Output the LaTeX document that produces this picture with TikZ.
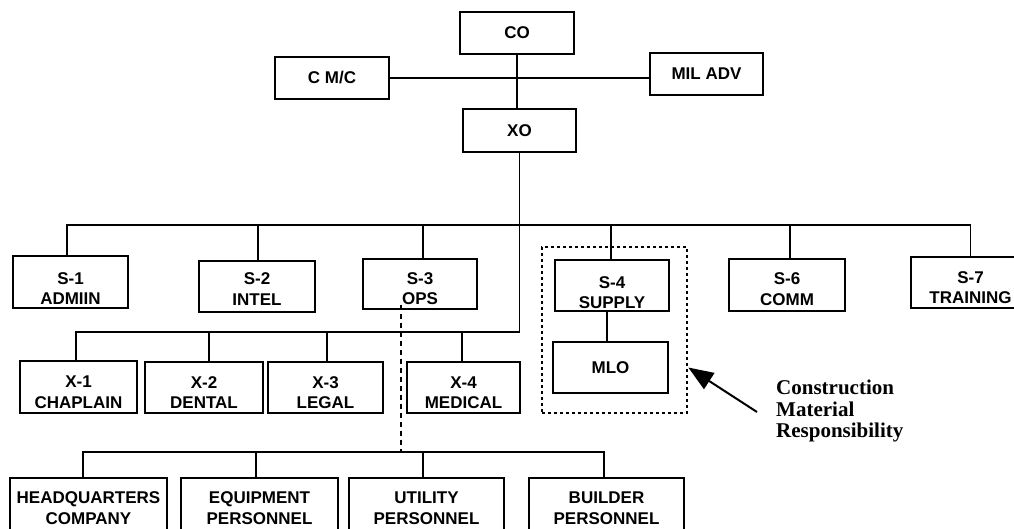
\documentclass[tikz,border=0pt]{standalone}
\usepackage{fontspec}
\setmainfont{Liberation Sans}
\newfontfamily\notefont{Liberation Serif}
\usetikzlibrary{arrows.meta}
\newcommand{\lowby}[1]{\rule{0pt}{#1pt}}
\tikzset{
  ob/.style={draw, rectangle, inner sep=0pt, align=center, line width=1.4pt,
    font=\fontsize{17}{20.5}\selectfont\bfseries},
  link/.style={line width=1.4pt},
  dashlink/.style={line width=1.2pt, dash pattern=on 5pt off 4pt},
  grpbox/.style={draw, rectangle, inner sep=0pt, line width=2.6pt, dash pattern=on 2.6pt off 3.4pt},
  bigarrow/.style={line width=2pt, -{Triangle[length=25pt,width=19pt]}},
  notetext/.style={anchor=north west, align=left, inner sep=0pt,
    font=\notefont\bfseries\fontsize{21}{21.5}\selectfont}
}
\begin{document}
\begin{tikzpicture}[x=1pt,y=-1pt]
\useasboundingbox (0,0) rectangle (1014,529);
\fill[white] (0,0) rectangle (1014,529);
\clip (0,0) rectangle (1014,529);

% group box
\node[grpbox, minimum width=145, minimum height=166] (grp) at (614.5,330) {};

% top
\node[ob, minimum width=114, minimum height=42] (CO) at (517,33) {CO};
\node[ob, minimum width=114, minimum height=42] (CMC) at (332,78) {C M/C};
\node[ob, minimum width=113, minimum height=42] (MIL) at (706.5,74) {MIL ADV};
\node[ob, minimum width=113, minimum height=43] (XO) at (519.5,130.5) {XO};

% S row
\node[ob, minimum width=115, minimum height=52] (S1) at (70.5,282) {\lowby{25}S-1\\ADMIIN};
\node[ob, minimum width=116, minimum height=51] (S2) at (257,286.5) {\lowby{17}S-2\\INTEL};
\node[ob, minimum width=114, minimum height=50] (S3) at (420,284) {\lowby{21}S-3\\OPS};
\node[ob, minimum width=114, minimum height=51] (S4) at (612,285.5) {\lowby{26}S-4\\SUPPLY};
\node[ob, minimum width=116, minimum height=52] (S6) at (787,285) {\lowby{20}S-6\\COMM};
\node[ob, minimum width=119, minimum height=51] (S7) at (970.5,282.5) {\lowby{22}S-7\\TRAINING};
\node[ob, minimum width=115, minimum height=51] (MLO) at (610.5,367.5) {MLO};

% X row
\node[ob, minimum width=117, minimum height=52] (X1) at (78.5,387) {\lowby{22}X-1\\CHAPLAIN};
\node[ob, minimum width=118, minimum height=51] (X2) at (204,387.5) {\lowby{22}X-2\\DENTAL};
\node[ob, minimum width=115, minimum height=51] (X3) at (325.5,387.5) {\lowby{22}X-3\\LEGAL};
\node[ob, minimum width=113, minimum height=51] (X4) at (463.5,387.5) {\lowby{22}X-4\\MEDICAL};

% bottom row
\node[ob, minimum width=157, minimum height=60] (HQ) at (88.5,508) {HEADQUARTERS\\COMPANY};
\node[ob, minimum width=157, minimum height=60] (EQ) at (259.5,508) {EQUIPMENT\\PERSONNEL};
\node[ob, minimum width=155, minimum height=60] (UT) at (426.5,508) {UTILITY\\PERSONNEL};
\node[ob, minimum width=155, minimum height=60] (BU) at (606.5,508) {BUILDER\\PERSONNEL};

% bus levels
\coordinate (tb) at (0,225);
\coordinate (xb) at (0,332);
\coordinate (bb) at (0,452);

% connectors
\draw[link] (CO.south) -- (CO.south |- XO.north);
\draw[link] (CMC.east) -- (CMC.east -| MIL.west);
\draw[link] (XO.south) -- (XO.south |- xb) -- ([xshift=-2.5]X1.north |- xb) -- ([xshift=-2.5]X1.north);
\draw[link] ([xshift=5]X2.north) -- ([xshift=5]X2.north |- xb);
\draw[link] ([xshift=1.5]X3.north) -- ([xshift=1.5]X3.north |- xb);
\draw[link] ([xshift=-1.5]X4.north) -- ([xshift=-1.5]X4.north |- xb);

\draw[link] ([xshift=-3.5]S1.north) |- (S7.north |- tb) -- (S7.north);
\draw[link] ([xshift=1]S2.north) -- ([xshift=1]S2.north |- tb);
\draw[link] ([xshift=3]S3.north) -- ([xshift=3]S3.north |- tb);
\draw[link] ([xshift=-1]S4.north) -- ([xshift=-1]S4.north |- tb);
\draw[link] ([xshift=3]S6.north) -- ([xshift=3]S6.north |- tb);
\draw[link] ([xshift=-5]S4.south) -- ([xshift=-5]S4.south |- MLO.north);

\draw[dashlink] ([xshift=-19,yshift=5]S3.south) -- ([xshift=-19]S3.south |- bb);
\draw[link] ([xshift=-5.5]HQ.north) |- ([xshift=-2.5]BU.north |- bb) -- ([xshift=-2.5]BU.north);
\draw[link] ([xshift=-3.5]EQ.north) -- ([xshift=-3.5]EQ.north |- bb);
\draw[link] ([xshift=-3.5]UT.north) -- ([xshift=-3.5]UT.north |- bb);

% annotation
\node[notetext] (note) at (776,380) {Construction\\Material\\Responsibility};
\coordinate (tail) at (757,412);
\draw[bigarrow] (tail) -- (grp.east |- MLO.center);
\end{tikzpicture}
\end{document}
